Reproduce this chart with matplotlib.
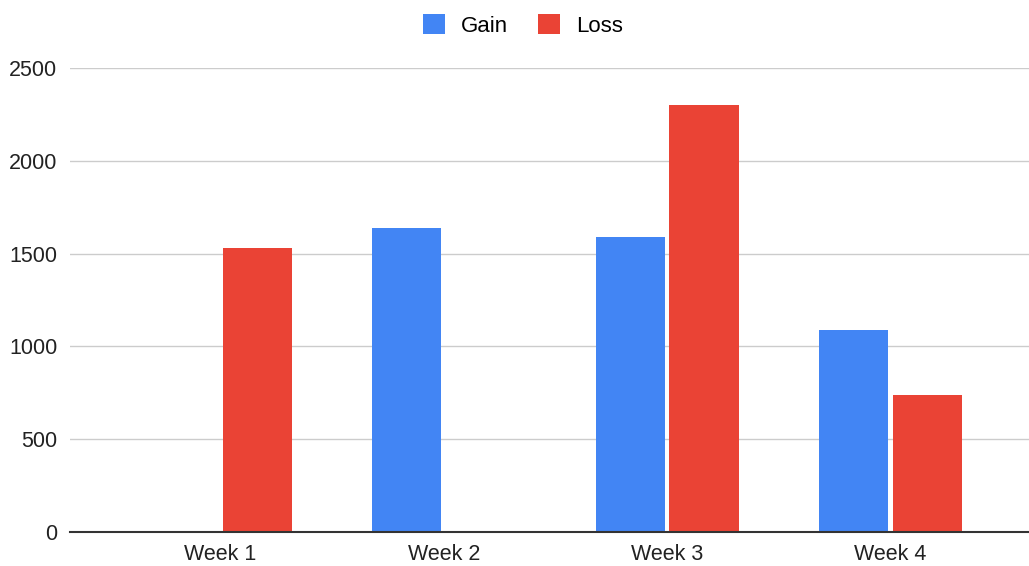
import numpy as np
import matplotlib
matplotlib.use('Agg')
import matplotlib.pyplot as plt

weeks = ['Week 1', 'Week 2', 'Week 3', 'Week 4']
gain = [0, 1640, 1590, 1090]
loss = [1530, 0, 2300, 740]
yticks = [0, 500, 1000, 1500, 2000, 2500]

plt.rcParams['font.family'] = ['Liberation Sans', 'DejaVu Sans']

fig = plt.figure(figsize=(10.29, 5.66), dpi=100)
ax = fig.add_axes([70 / 1029, 34 / 566, 959 / 1029, 464 / 566])

x = np.arange(len(weeks))
w = 0.31
ax.bar(x - 0.165, gain, w, color='#4285F4', label='Gain', zorder=3)
ax.bar(x + 0.165, loss, w, color='#EA4335', label='Loss', zorder=3)

ax.set_xlim(-0.673, 3.62)
ax.set_ylim(0, 2500)
ax.set_yticks(yticks)
ax.set_xticks(x)
ax.set_xticklabels(weeks)
ax.tick_params(length=0, labelsize=15.5, colors='#222222')
ax.tick_params(axis='y', pad=9)
ax.tick_params(axis='x', pad=9)
ax.grid(axis='y', color='#cccccc', linewidth=1, zorder=0)
for side in ['left', 'right', 'top']:
    ax.spines[side].set_visible(False)
ax.spines['bottom'].set_color('#333333')
ax.spines['bottom'].set_linewidth(1.5)
ax.spines['bottom'].set_zorder(4)

# legend sits a little right of the figure centre in the original
fig.legend(loc='upper center', bbox_to_anchor=(0.508, 1.01), ncol=2, frameon=False,
           fontsize=16, handlelength=1.0, handleheight=1.0, columnspacing=1.35,
           handletextpad=0.72)

fig.savefig('out.png', dpi=100)
